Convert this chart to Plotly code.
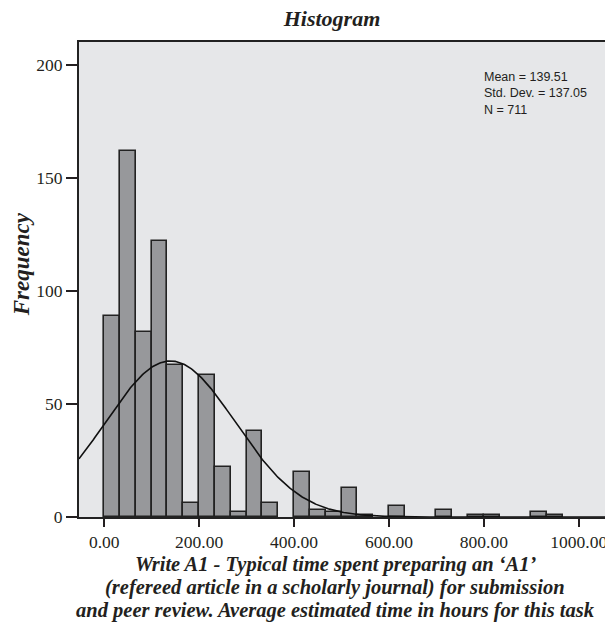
import numpy as np
import plotly.graph_objects as go

# ---- data ----
bin_width = 1000 / 30
bin_starts = [0, 33.33, 66.67, 100, 133.33, 166.67, 200, 233.33, 266.67, 300,
              333.33, 400, 433.33, 466.67, 500, 533.33, 600, 700, 766.67, 800,
              900, 933.33]
counts = [89, 162, 82, 122, 67, 6, 63, 22, 2, 38,
          6, 20, 3, 2, 13, 1, 5, 3, 1, 1,
          2, 1]
stat_mean = 139.51
stat_sd = 137.05
stat_n = 711
x_tickvals = [0, 200, 400, 600, 800, 1000]
x_ticktext = ["0.00", "200.00", "400.00", "600.00", "800.00", "1000.00"]
y_tickvals = [0, 50, 100, 150, 200]
y_ticktext = ["0", "50", "100", "150", "200"]

x_range = [-53.1, 1055.2]
y_range = [0, 210]

ink = "#231f20"
serif = "Liberation Serif, Times New Roman, serif"
sans = "Liberation Sans, Arial, sans-serif"

fig = go.Figure()

bar_centers = [s + bin_width / 2 for s in bin_starts]
fig.add_trace(go.Bar(
    x=bar_centers, y=counts, width=[bin_width] * len(counts),
    marker=dict(color="#97989b", line=dict(color="#222222", width=1.6)),
    hoverinfo="skip", showlegend=False,
))

# normal curve from displayed statistics
xc = np.linspace(x_range[0], x_range[1], 400)
yc = stat_n * bin_width / (stat_sd * np.sqrt(2 * np.pi)) * np.exp(-0.5 * ((xc - stat_mean) / stat_sd) ** 2)
fig.add_trace(go.Scatter(x=xc, y=yc, mode="lines",
                         line=dict(color="#111111", width=1.6),
                         hoverinfo="skip", showlegend=False))

# page has an 8px body margin; figure size compensates
OFF = 8
W, H = 605, 616
L, R, T, B = 71, 6, 34, 107
pw, ph = W - L - R, H - T - B

def px_to_paper_x(page_px):
    return (page_px - OFF - L) / pw

def px_to_paper_y(page_py):
    return (H - B - (page_py - OFF)) / ph

fig.update_layout(
    width=W, height=H,
    margin=dict(l=L, r=R, t=T, b=B, pad=0),
    paper_bgcolor="white",
    plot_bgcolor="#e6e7e9",
    bargap=0,
    font=dict(family=serif, color=ink, size=17),
    title=dict(text="<b><i>Histogram</i></b>", x=(332 - OFF) / W, xref="container",
               xanchor="center", y=1 - (18 - OFF) / H, yref="container", yanchor="middle",
               font=dict(family=serif, size=22, color=ink)),
)

fig.update_xaxes(
    range=x_range, tickvals=x_tickvals, ticktext=x_ticktext,
    ticks="outside", ticklen=8, tickwidth=1.5, tickcolor=ink,
    showline=True, linecolor="#222222", linewidth=2, mirror=True,
    showgrid=False, zeroline=False,
    tickfont=dict(family=serif, size=17.5, color=ink),
)
fig.update_yaxes(
    range=y_range, tickvals=y_tickvals, ticktext=y_ticktext,
    ticks="outside", ticklen=11, tickwidth=1.5, tickcolor=ink,
    showline=True, linecolor="#222222", linewidth=2, mirror=True,
    showgrid=False, zeroline=False,
    tickfont=dict(family=serif, size=17.5, color=ink),
)

# y-axis title
fig.add_annotation(text="<b><i>Frequency</i></b>", xref="paper", yref="paper",
                   x=px_to_paper_x(22), y=px_to_paper_y(264), textangle=-90,
                   showarrow=False, xanchor="center", yanchor="middle",
                   font=dict(family=serif, size=23, color=ink))

# x-axis title (three lines)
x_title_lines = [
    "Write A1 - Typical time spent preparing an \u2018A1\u2019",
    "(refereed article in a scholarly journal) for submission",
    "and peer review. Average estimated time in hours for this task",
]
for i, line in enumerate(x_title_lines):
    fig.add_annotation(text="<b><i>" + line + "</i></b>", xref="paper", yref="paper",
                       x=px_to_paper_x(336), y=px_to_paper_y(564 + 23 * i),
                       showarrow=False, xanchor="center", yanchor="middle",
                       font=dict(family=serif, size=20.5, color=ink))

# statistics box text
stat_lines = [f"Mean = {stat_mean:.2f}", f"Std. Dev. = {stat_sd:.2f}", f"N = {stat_n}"]
fig.add_annotation(text="<br>".join(stat_lines), xref="paper", yref="paper",
                   x=px_to_paper_x(484), y=px_to_paper_y(93),
                   showarrow=False, xanchor="left", yanchor="middle", align="left",
                   font=dict(family=sans, size=12.5, color=ink))

fig.write_html("out.html")
